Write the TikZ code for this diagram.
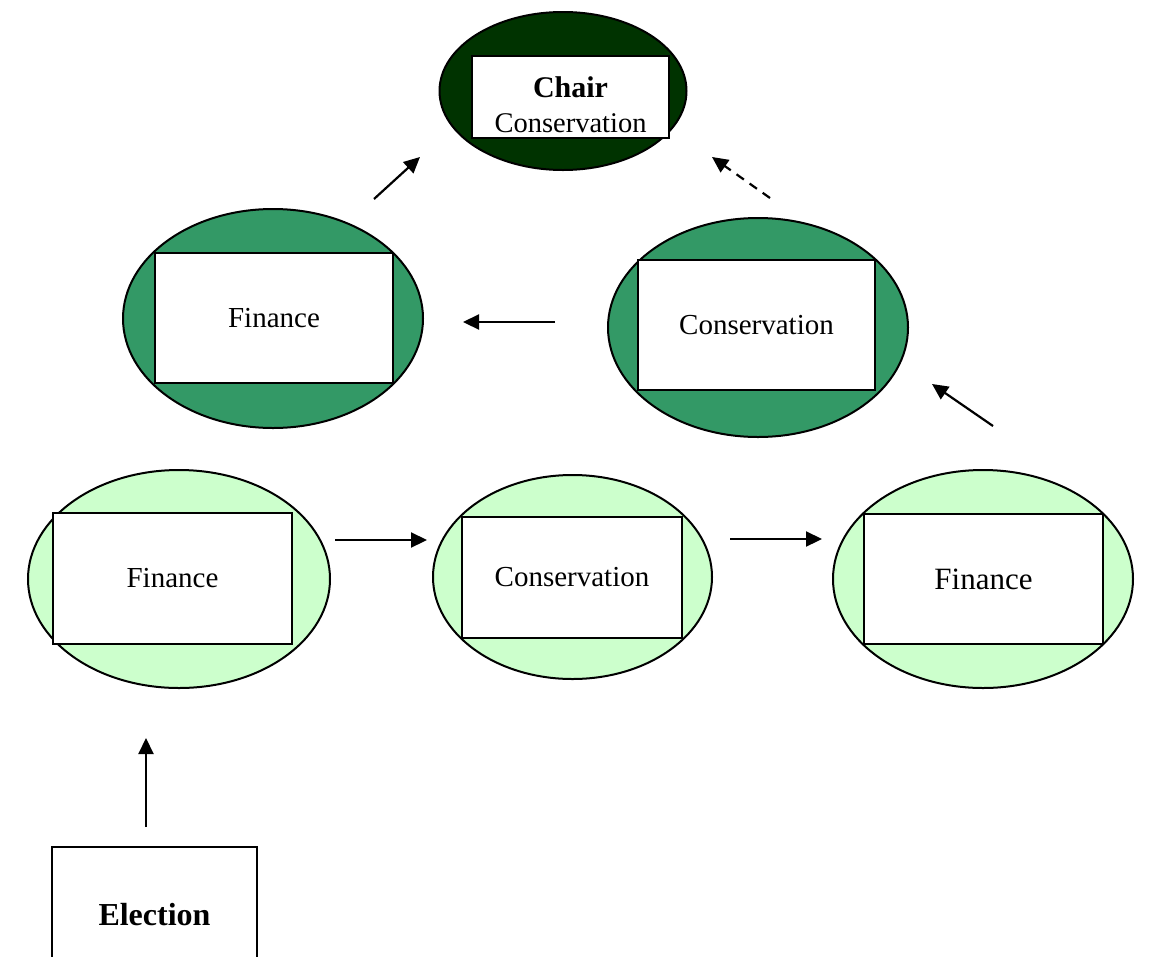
\documentclass[tikz,border=0pt]{standalone}
\usepackage{fontspec}
\setmainfont{Liberation Serif}
\usetikzlibrary{shapes.geometric,arrows.meta}

\definecolor{chairgreen}{HTML}{003300}
\definecolor{midgreen}{HTML}{339966}
\definecolor{palegreen}{HTML}{CCFFCC}

\tikzset{
  oval/.style={draw=black, line width=2pt, ellipse, inner sep=0pt},
  card/.style={draw=black, line width=2.4pt, fill=white, rectangle, inner sep=0pt, align=center},
  txt/.style={font=\fontsize{29}{34}\selectfont},
  link/.style={line width=2.2pt, -{Triangle[length=16pt,width=15pt]}},
}

\begin{document}
\begin{tikzpicture}[x=1pt,y=-1pt]
\useasboundingbox (0,0) rectangle (1151,956);
\clip (0,0) rectangle (1151,956);

% committee chair
\node[oval, fill=chairgreen, minimum width=247pt, minimum height=158pt] (chairO) at (563,91) {};
\node[card, minimum width=197pt, minimum height=82pt, font=\fontsize{28.5}{35}\selectfont] (chair) at (570.5,97)
  {\rule{0pt}{37pt}{\fontsize{30}{35}\selectfont\bfseries Chair}\\Conservation};

% second tier
\node[oval, fill=midgreen, minimum width=300pt, minimum height=219pt] (finOB) at (273,318.5) {};
\node[card, txt, minimum width=238pt, minimum height=130pt] (finB) at (274,318) {Finance};
\node[oval, fill=midgreen, minimum width=300pt, minimum height=219pt] (conOB) at (758,327.5) {};
\node[card, txt, minimum width=237pt, minimum height=130pt] (conB) at (756.5,325) {Conservation};

% first tier
\node[oval, fill=palegreen, minimum width=302pt, minimum height=218pt] (finOA) at (179,579) {};
\node[card, txt, minimum width=239pt, minimum height=131pt] (finA) at (172.5,578.5) {Finance};
\node[oval, fill=palegreen, minimum width=279pt, minimum height=204pt] (conOA) at (572.5,577) {};
\node[card, txt, minimum width=220pt, minimum height=121pt] (conA) at (572,577.5) {Conservation};
\node[oval, fill=palegreen, minimum width=300pt, minimum height=218pt] (finOC) at (983,579) {};
\node[card, minimum width=239pt, minimum height=130pt, font=\fontsize{31}{36}\selectfont] (finC) at (983.5,579) {Finance};

% entry point
\node[card, minimum width=205pt, minimum height=136pt, font=\fontsize{32}{36}\selectfont\bfseries] (elect) at (154.5,915) {Election};

% arrow end points
\coordinate (e1) at (146,827);   \coordinate (e2) at (146,738);
\coordinate (a1) at (335,540);   \coordinate (a2) at (427,540);
\coordinate (b1) at (730,539);   \coordinate (b2) at (822,539);
\coordinate (c1) at (993,426);   \coordinate (c2) at (932,384);
\coordinate (d1) at (555,322);   \coordinate (d2) at (463,322);
\coordinate (f1) at (374,199);   \coordinate (f2) at (420,157);
\coordinate (g1) at (770,198);   \coordinate (g2) at (712,157);

\draw[link] (e1) -- (e2);
\draw[link] (a1) -- (a2);
\draw[link] (b1) -- (b2);
\draw[link] (c1) -- (c2);
\draw[link] (d1) -- (d2);
\draw[link] (f1) -- (f2);
\draw[link, dash pattern=on 9pt off 7pt] (g1) -- (g2);
\end{tikzpicture}
\end{document}
